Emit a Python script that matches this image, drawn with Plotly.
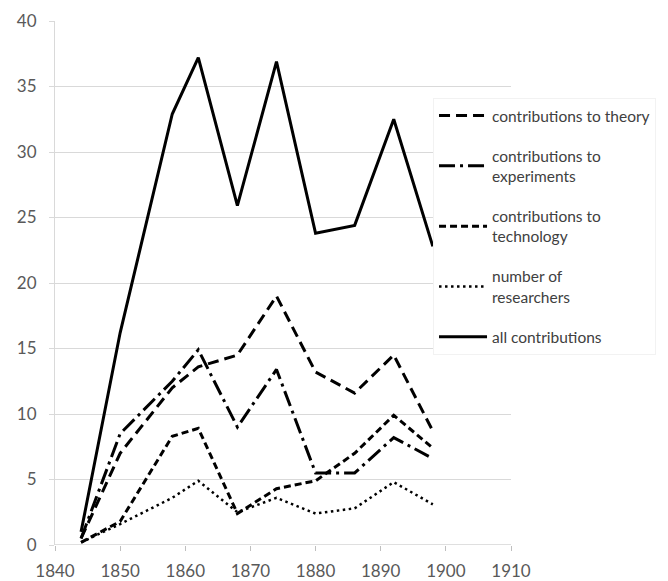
import plotly.graph_objects as go

years = [1844, 1850, 1858, 1862, 1868, 1874, 1880, 1886, 1892, 1898]
theory = [0.5, 7.0, 12.0, 13.6, 14.5, 19.0, 13.2, 11.6, 14.5, 8.7]
experiments = [0.5, 8.5, 12.5, 14.9, 9.0, 13.4, 5.5, 5.5, 8.2, 6.6]
technology = [0.2, 1.8, 8.3, 8.9, 2.4, 4.3, 4.9, 7.0, 9.9, 7.4]
researchers = [0.2, 1.6, 3.6, 4.9, 2.5, 3.6, 2.4, 2.8, 4.8, 3.1]
all_contrib = [1.0, 16.2, 32.9, 37.2, 25.9, 36.9, 23.8, 24.4, 32.5, 22.8]

names = ["contributions to theory", "contributions to<br>experiments",
         "contributions to<br>technology", "number of<br>researchers", "all contributions"]
series = [theory, experiments, technology, researchers, all_contrib]
dashes = ["11px,6px", "16px,5px,3px,5px", "7px,4px", "2.5px,3.5px", "solid"]
widths = [3, 3, 3, 2.5, 3]

x_ticks = [1840, 1850, 1860, 1870, 1880, 1890, 1900, 1910]
y_ticks = [0, 5, 10, 15, 20, 25, 30, 35, 40]

fig = go.Figure()
for i, (nm, ys, ds, w) in enumerate(zip(names, series, dashes, widths)):
    fig.add_trace(go.Scatter(
        x=years, y=ys, mode="lines", name=nm, legendgroup=f"g{i}",
        line=dict(color="black", width=w, dash=ds),
    ))

fig.update_layout(
    width=660, height=573,
    margin=dict(l=47, r=153, t=13, b=36),
    paper_bgcolor="white", plot_bgcolor="white",
    font=dict(family="Lato", color="#404040"),
    legend=dict(
        x=0.829, y=0.853, xanchor="left", yanchor="top",
        bgcolor="white", bordercolor="#f2f2f2", borderwidth=1,
        font=dict(size=15.5, color="#404040"),
        tracegroupgap=17, itemwidth=48,
    ),
    xaxis=dict(
        range=[1840, 1910], tickvals=x_ticks, ticktext=[str(v) for v in x_ticks],
        showgrid=False, zeroline=False, showline=False, automargin=False,
        ticks="outside", ticklen=5, tickcolor="#bfbfbf",
        tickfont=dict(size=17, color="#595959"), ticklabelstandoff=6,
    ),
    yaxis=dict(
        range=[0, 40], tickvals=y_ticks, ticktext=[str(v) for v in y_ticks],
        showgrid=True, gridcolor="#d9d9d9", gridwidth=1, automargin=False,
        zeroline=False, showline=True, linecolor="#d9d9d9", linewidth=1,
        ticks="outside", ticklen=5, tickcolor="#d9d9d9",
        tickfont=dict(size=17, color="#595959"), ticklabelstandoff=9,
    ),
    showlegend=True,
)
fig.add_hline(y=0, line=dict(color="#bfbfbf", width=1), layer="below")

fig.write_html("out.html")
